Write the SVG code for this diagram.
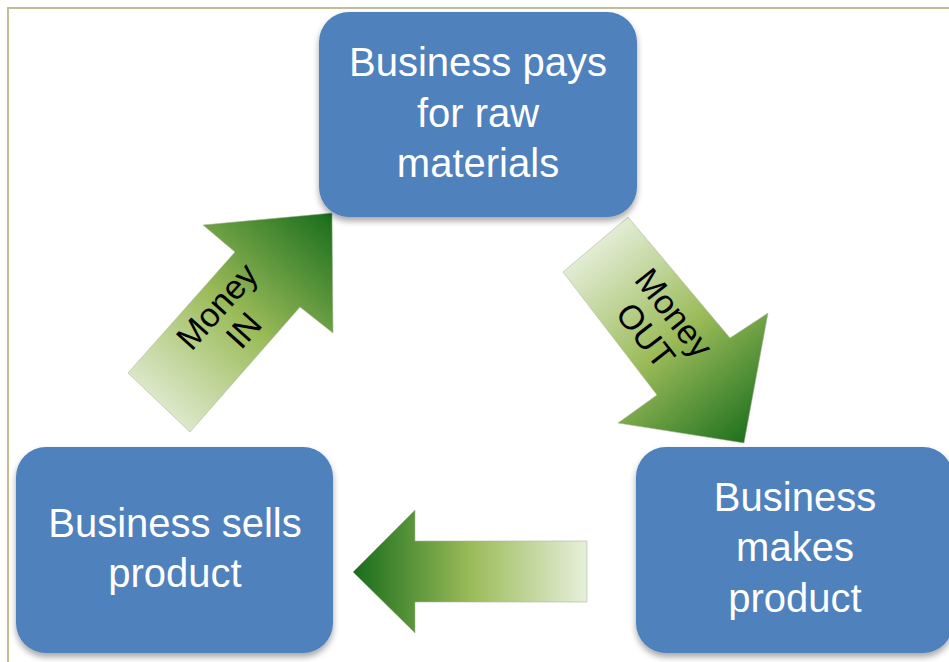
<svg xmlns="http://www.w3.org/2000/svg" width="949" height="662" viewBox="0 0 949 662">
  <style>
    .box { fill: #4f81bd; filter: url(#shadow); }
    .boxtext { fill: #ffffff; font-family: "Liberation Sans", Arial, sans-serif; font-size: 40px; text-anchor: middle; }
    .arrowtext { fill: #000000; font-family: "Liberation Sans", Arial, sans-serif; font-size: 34px; text-anchor: middle; }
    .arrow { stroke: #a9b39b; stroke-width: 0.8; stroke-opacity: 0.7; }
  </style>
  <defs>
    <filter id="shadow" x="-10%" y="-10%" width="120%" height="125%">
      <feDropShadow dx="0" dy="4" stdDeviation="3" flood-color="#000000" flood-opacity="0.35"/>
    </filter>
    <linearGradient id="gIn" gradientUnits="userSpaceOnUse" x1="150" y1="420" x2="330" y2="215">
      <stop offset="0" stop-color="#e6efdb"/>
      <stop offset="0.5" stop-color="#9bbb59"/>
      <stop offset="1" stop-color="#1a6e1c"/>
    </linearGradient>
    <linearGradient id="gOut" gradientUnits="userSpaceOnUse" x1="590" y1="240" x2="755" y2="440">
      <stop offset="0" stop-color="#e6efdb"/>
      <stop offset="0.5" stop-color="#9bbb59"/>
      <stop offset="1" stop-color="#1a6e1c"/>
    </linearGradient>
    <linearGradient id="gLeft" gradientUnits="userSpaceOnUse" x1="587" y1="0" x2="355" y2="0">
      <stop offset="0" stop-color="#e6efdb"/>
      <stop offset="0.5" stop-color="#9bbb59"/>
      <stop offset="1" stop-color="#1a6e1c"/>
    </linearGradient>
  </defs>

  <rect width="949" height="662" fill="#ffffff"/>
  <path d="M8 662 V8 H949" fill="none" stroke="#c4bc96" stroke-width="2"/>

  <g id="connectors">
    <g id="arrow-money-in">
      <polygon class="arrow" fill="url(#gIn)" points="128,373 235,252 203,225 332,213 333,333 300,307 190,432"/>
      <g transform="translate(230,318) rotate(-48)">
        <text class="arrowtext" x="0" y="-6">Money</text>
        <text class="arrowtext" x="0" y="30">IN</text>
      </g>
    </g>
    <g id="arrow-money-out">
      <polygon class="arrow" fill="url(#gOut)" points="563,272 628,217 730,338 768,313 744,443 618,423 657,395"/>
      <g transform="translate(660,324) rotate(52)">
        <text class="arrowtext" x="0" y="-6">Money</text>
        <text class="arrowtext" x="0" y="30">OUT</text>
      </g>
    </g>
    <g id="arrow-left">
      <polygon class="arrow" fill="url(#gLeft)" points="353,572 415,510 415,541 587,541 587,602 415,602 415,633"/>
    </g>
  </g>

  <g id="node-pays">
    <rect class="box" x="319" y="12" width="318" height="205" rx="30" ry="30"/>
    <text class="boxtext" x="478" y="76">Business pays</text>
    <text class="boxtext" x="478" y="127">for raw</text>
    <text class="boxtext" x="478" y="177">materials</text>
  </g>

  <g id="node-makes">
    <rect class="box" x="636" y="447" width="317" height="206" rx="30" ry="30"/>
    <text class="boxtext" x="795" y="511">Business</text>
    <text class="boxtext" x="795" y="561">makes</text>
    <text class="boxtext" x="795" y="612">product</text>
  </g>

  <g id="node-sells">
    <rect class="box" x="16" y="447" width="317" height="206" rx="30" ry="30"/>
    <text class="boxtext" x="175" y="537">Business sells</text>
    <text class="boxtext" x="175" y="587">product</text>
  </g>
</svg>
